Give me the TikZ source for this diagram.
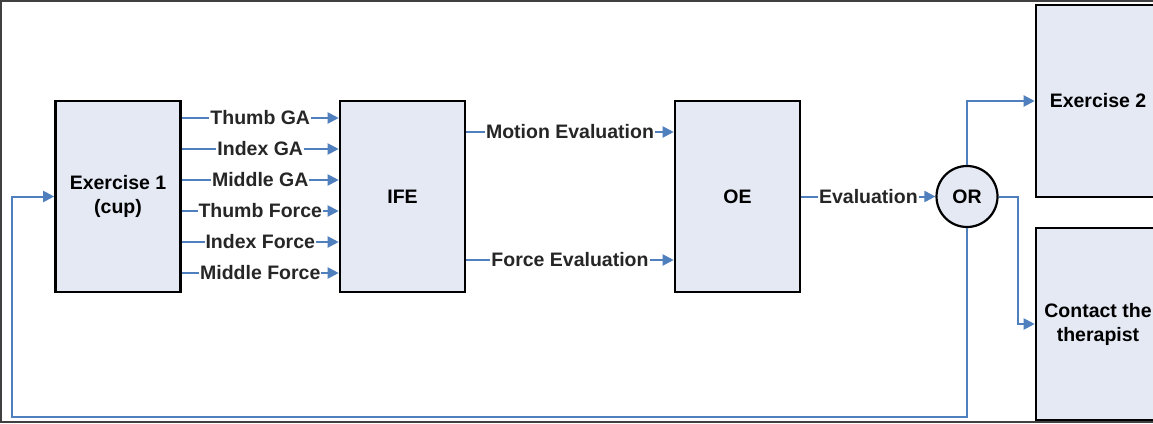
\documentclass[tikz,border=0pt]{standalone}
\usepackage{fontspec}
\setmainfont{Liberation Sans}
\usetikzlibrary{arrows.meta}
\definecolor{boxfill}{HTML}{E4E9F4}
\definecolor{linkblue}{HTML}{4F7FBD}
\definecolor{framegray}{HTML}{404040}
\tikzset{
  blockbox/.style={draw=black, line width=2.6pt, fill=boxfill, minimum width=125pt, minimum height=191pt, align=center, inner sep=0pt},
  orcirc/.style={circle, draw=black, line width=2.2pt, fill=boxfill, minimum size=61pt, inner sep=0pt},
  conn/.style={draw=linkblue, line width=2pt, -{Triangle[length=11pt,width=11pt]}},
  lbl/.style={fill=white, inner xsep=1pt, inner ysep=1pt, text=black!85},
}
\begin{document}
\begin{tikzpicture}[x=1pt,y=-1pt, font=\fontsize{19.5}{24}\selectfont\bfseries]
\useasboundingbox (0,0) rectangle (1153,423);
\clip (0,0) rectangle (1153,423);
\fill[white] (0,0) rectangle (1153,423);
\draw[framegray, line width=2pt] (1,1) rectangle (1170,421.5);

\node[blockbox] (ex1) at (118,196.5) {Exercise 1\\(cup)};
\node[blockbox] (ife) at (402.5,196.5) {IFE};
\node[blockbox] (oe) at (737.5,196.5) {OE};
\node[orcirc] (or) at (967,196.5) {OR};
\node[blockbox, minimum width=124pt, minimum height=192pt] (ex2) at (1098,101) {Exercise 2};
\node[blockbox, minimum width=124pt, minimum height=192pt] (ct) at (1098,324) {Contact the\\therapist};

\coordinate (y1) at (0,118);
\coordinate (y2) at (0,149);
\coordinate (y3) at (0,180);
\coordinate (y4) at (0,211);
\coordinate (y5) at (0,242);
\coordinate (y6) at (0,273);
\coordinate (ym) at (0,132);
\coordinate (yf) at (0,260);

\draw[conn] (ex1.east |- y1) -- node[lbl] {Thumb GA} (ife.west |- y1);
\draw[conn] (ex1.east |- y2) -- node[lbl] {Index GA} (ife.west |- y2);
\draw[conn] (ex1.east |- y3) -- node[lbl] {Middle GA} (ife.west |- y3);
\draw[conn] (ex1.east |- y4) -- node[lbl] {Thumb Force} (ife.west |- y4);
\draw[conn] (ex1.east |- y5) -- node[lbl] {Index Force} (ife.west |- y5);
\draw[conn] (ex1.east |- y6) -- node[lbl] {Middle Force} (ife.west |- y6);

\draw[conn] (ife.east |- ym) -- node[lbl] {Motion Evaluation} (oe.west |- ym);
\draw[conn] (ife.east |- yf) -- node[lbl] {Force Evaluation} (oe.west |- yf);

\draw[conn] (oe.east) -- node[lbl] {Evaluation} (or.west);

\draw[conn] (or.north) |- (ex2.west);
\coordinate (k) at (1018,196.5);
\draw[conn] (or.east) -- (k) |- (ct.west);

\coordinate (fb1) at (0,417);
\coordinate (fb2) at (12,417);
\draw[conn] (or.south) -- (or.south |- fb1) -- (fb2) |- (ex1.west);
\end{tikzpicture}
\end{document}
